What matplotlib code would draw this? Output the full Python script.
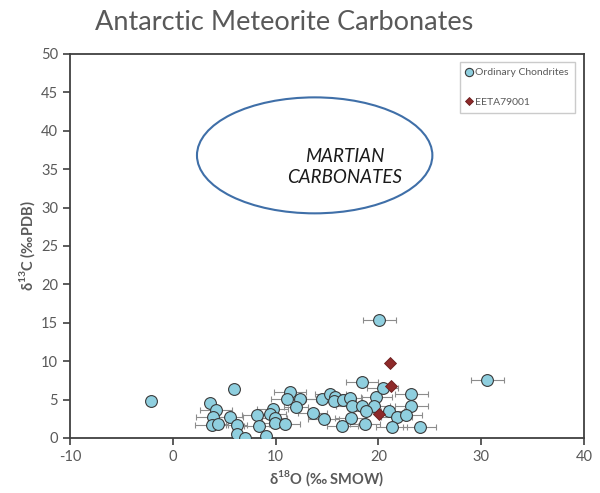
#!/usr/bin/env python3

import matplotlib as mpl
mpl.use("Agg")
from matplotlib import pyplot as plt
from matplotlib.patches import Ellipse
import numpy as np

mpl.rcParams["font.family"] = ["Lato", "DejaVu Sans"]
mpl.rcParams["mathtext.fontset"] = "custom"
mpl.rcParams["mathtext.rm"] = "Lato"
mpl.rcParams["mathtext.bf"] = "Lato:bold"
mpl.rcParams["axes.unicode_minus"] = False

# Ordinary chondrites: d18O, d13C, x error
oc_x = [-2.1, 3.6, 4.2, 3.9, 3.8, 4.4, 6.0, 5.6, 6.2, 6.2, 7.0, 9.1, 8.2, 8.4,
        9.7, 9.5, 9.9, 9.9, 10.9, 11.4, 11.1, 12.4, 12.0, 13.6, 14.5, 15.3,
        15.8, 15.7, 16.6, 17.2, 19.8, 17.4, 18.4, 19.6, 23.2, 18.8, 21.0,
        14.7, 17.3, 21.8, 22.7, 16.5, 18.7, 21.3, 24.0, 20.1, 30.6, 18.4,
        20.4, 23.2]
oc_y = [4.8, 4.6, 3.7, 2.7, 1.7, 1.8, 6.4, 2.7, 1.7, 0.5, 0.05, 0.3, 3.0, 1.6,
        3.8, 3.1, 2.6, 2.0, 1.8, 6.0, 5.1, 5.1, 4.0, 3.3, 5.1, 5.7,
        5.3, 4.8, 5.0, 5.2, 5.3, 4.2, 4.2, 4.2, 4.2, 3.5, 3.5,
        2.5, 2.6, 2.7, 3.0, 1.6, 1.8, 1.4, 1.4, 15.4, 7.6, 7.3,
        6.5, 5.7]
oc_xerr = [0, 0, 1.6, 1.6, 1.6, 1.0, 0, 1.2, 1.0, 0, 0, 0, 1.5, 1.5,
           1.5, 1.5, 1.2, 1.2, 1.5, 1.6, 1.5, 1.5, 1.2, 1.4, 1.5, 1.5,
           1.2, 1.2, 1.2, 1.2, 1.5, 1.5, 1.5, 1.5, 1.6, 1.5, 1.5,
           1.5, 1.5, 1.5, 1.5, 1.5, 1.5, 1.5, 1.6, 1.6, 1.6, 1.6,
           1.5, 1.6]

# EETA79001
ee_x = [20.1, 21.1, 21.2]
ee_y = [3.1, 9.7, 6.8]

gray = "#595959"

fig = plt.figure(figsize=(6, 4.93), dpi=100)
ax = fig.add_axes([0.1167, 0.1116, 0.8566, 0.7789])

oc_yerr = [0.3 if e > 0 else 0 for e in oc_xerr]
ax.errorbar(oc_x, oc_y, xerr=oc_xerr, yerr=oc_yerr, fmt="none",
            ecolor="#8C8C8C", elinewidth=0.8, capsize=2, capthick=0.8, zorder=2)
ax.plot(oc_x, oc_y, "o", ms=8.5, mfc="#8FCFDF", mec="#3A3A3A", mew=0.8,
        ls="none", label="Ordinary Chondrites", zorder=3)
ax.plot(ee_x, ee_y, "D", ms=6.5, mfc="#8E2A2A", mec="#6A1E1E", mew=0.6,
        ls="none", label="EETA79001", zorder=4)

# Martian carbonates field
ax.add_patch(Ellipse((13.8, 36.8), 22.9, 15.1, fill=False,
                     ec="#3F6FA8", lw=1.5, zorder=1))
ax.text(16.7, 35.3, "MARTIAN\nCARBONATES", ha="center", va="center",
        style="italic", fontsize=13.5, color="#1A1A1A", linespacing=1.3)

ax.set_xlim(-10, 40)
ax.set_ylim(0, 50)
ax.set_xticks(np.arange(-10, 41, 10))
ax.set_yticks(np.arange(0, 51, 5))
ax.tick_params(direction="out", length=5, width=1.2, colors="#404040",
               labelcolor=gray, labelsize=10.5)
for s in ax.spines.values():
    s.set_color("#404040")
    s.set_linewidth(1.3)

ax.set_xlabel(r"δ$^{\mathbf{18}}$O (‰ SMOW)", fontsize=10.5, fontweight="bold",
              color=gray, labelpad=3)
ax.set_ylabel(r"δ$^{\mathbf{13}}$C (‰PDB)", fontsize=10.5, fontweight="bold",
              color=gray, labelpad=3)

fig.text(0.473, 0.955, "Antarctic Meteorite Carbonates", ha="center",
         va="center", fontsize=19.5, color=gray)

leg = ax.legend(loc="upper right", bbox_to_anchor=(0.993, 0.993), fontsize=7.5,
                fancybox=False, edgecolor="#BFBFBF", labelspacing=1.9,
                handlelength=0.6, handletextpad=0.3, markerscale=0.7,
                borderpad=0.6)
leg.get_frame().set_linewidth(1.0)
for t in leg.get_texts():
    t.set_color(gray)

fig.savefig("out.png", dpi=100)
